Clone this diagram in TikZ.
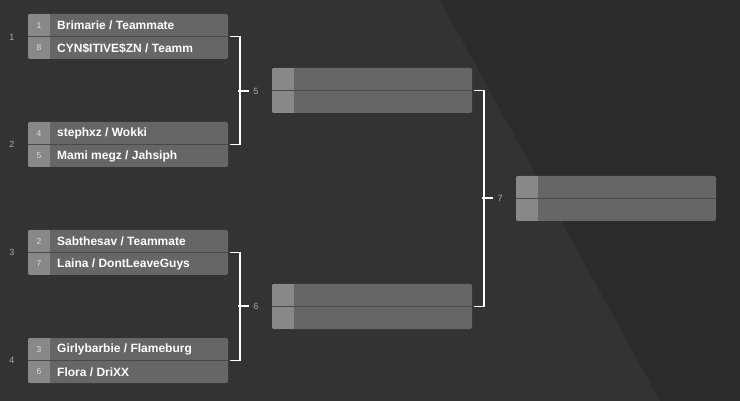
\documentclass[tikz,border=0pt]{standalone}
\usepackage{fontspec}
\setmainfont{Liberation Sans}
\begin{document}
\begin{tikzpicture}[x=1pt,y=-1pt,
  nm/.style={anchor=west,text=white,font=\bfseries\fontsize{12}{13}\selectfont,inner sep=0},
  sd/.style={text=seedtxt,font=\fontsize{8.5}{10}\selectfont,inner sep=0},
  ml/.style={text=labgray,font=\fontsize{9}{10}\selectfont,inner sep=0},
  con/.style={draw=white,line width=1.4pt}]
\definecolor{bg}{HTML}{333333}
\definecolor{bgr}{HTML}{2B2B2B}
\definecolor{boxg}{HTML}{666666}
\definecolor{seedgray}{HTML}{888888}
\definecolor{seedtxt}{HTML}{DDDDDD}
\definecolor{labgray}{HTML}{AAAAAA}
\definecolor{divg}{HTML}{4A4A4A}
\fill[bg] (0,0) rectangle (740,401);
\fill[bgr] (440,0) -- (740,0) -- (740,401) -- (660,401) -- cycle;
\useasboundingbox (0,0) rectangle (740,401);
\newcommand{\mybox}[6]{%
  \fill[boxg,rounded corners=2pt] (#1,#2) rectangle ++(200,45);
  \begin{scope}
  \clip[rounded corners=2pt] (#1,#2) rectangle ++(200,45);
  \fill[seedgray] (#1,#2) rectangle ++(22,45);
  \end{scope}
  \draw[divg,line width=0.8pt] (#1,#2+22.5) -- ++(200,0);
  \coordinate (#3) at (#1+200,#2+22.5);
  \node[sd] at (#1+11,#2+11.5) {#4};
  \node[sd] at (#1+11,#2+34) {#6};
  \begin{scope}\clip (#1+22,#2) rectangle ++(175,45);
  \node[nm] at (#1+29,#2+11.5) {#5};
  \end{scope}}
\newcommand{\secondname}[3]{\begin{scope}\clip (#1+22,#2) rectangle ++(175,45);
  \node[nm] at (#1+29,#2+34) {#3};\end{scope}}
\mybox{28}{14}{m1}{1}{Brimarie / Teammate}{8}\secondname{28}{14}{CYN\$ITIVE\$ZN / Teamm}
\mybox{28}{122}{m2}{4}{stephxz / Wokki}{5}\secondname{28}{122}{Mami megz / Jahsiph}
\mybox{28}{230}{m3}{2}{Sabthesav / Teammate}{7}\secondname{28}{230}{Laina / DontLeaveGuys}
\mybox{28}{338}{m4}{3}{Girlybarbie / Flameburg}{6}\secondname{28}{338}{Flora / DriXX}
\mybox{272}{68}{m5}{}{}{}
\mybox{272}{284}{m6}{}{}{}
\mybox{516}{176}{m7}{}{}{}
\node[ml] (l1) at (12,37) {1};
\node[ml] (l2) at (12,144) {2};
\node[ml] (l3) at (12,252) {3};
\node[ml] (l4) at (12,360) {4};
\node[ml] (l5) at (256,91) {5};
\node[ml] (l6) at (256,306) {6};
\node[ml] (l7) at (500,198) {7};
\draw[con] ([xshift=2]m1) -- ++(10,0) |- ([xshift=2]m2);
\draw[con] ([xshift=2]m3) -- ++(10,0) |- ([xshift=2]m4);
\draw[con] ([xshift=2]m5) -- ++(10,0) |- ([xshift=2]m6);
\draw[con] (238,91) -- ([xshift=-4]l5.west);
\draw[con] (238,306) -- ([xshift=-4]l6.west);
\draw[con] (482,198) -- ([xshift=-4]l7.west);
\end{tikzpicture}
\end{document}
